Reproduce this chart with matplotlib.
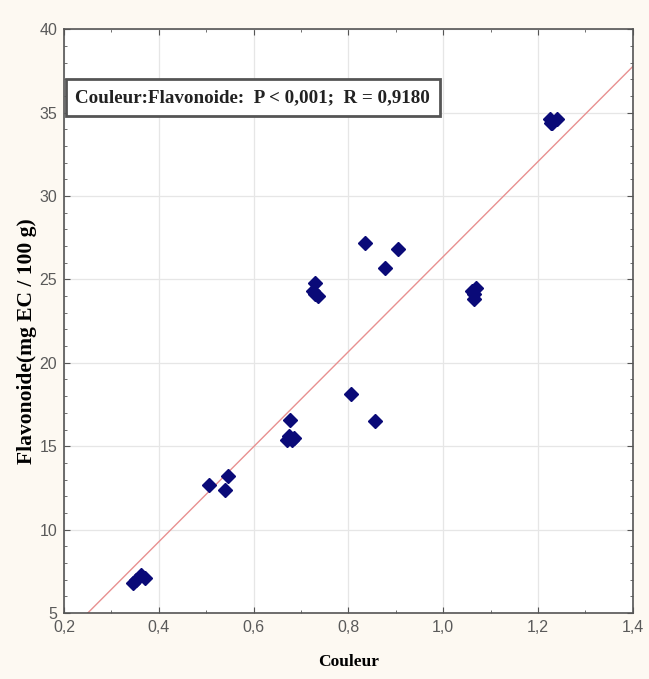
import matplotlib
matplotlib.use("Agg")
import matplotlib.pyplot as plt
import numpy as np
from matplotlib.ticker import MultipleLocator, FuncFormatter

# Data
couleur = [0.345, 0.352, 0.362, 0.370,
           0.505, 0.540, 0.545,
           0.670, 0.675, 0.680, 0.685, 0.677,
           0.725, 0.730, 0.735, 0.730,
           0.805, 0.835, 0.855, 0.877, 0.905,
           1.060, 1.065, 1.070, 1.065,
           1.225, 1.230, 1.240, 1.227]
flavonoide = [6.8, 7.0, 7.3, 7.1,
              12.7, 12.4, 13.2,
              15.4, 15.6, 15.4, 15.5, 16.6,
              24.3, 24.1, 24.0, 24.8,
              18.1, 27.2, 16.5, 25.7, 26.8,
              24.3, 23.8, 24.5, 24.1,
              34.6, 34.4, 34.6, 34.4]

# Regression line (slope, intercept)
fit_slope = 28.5
fit_intercept = -2.13
fit_x = [0.25, 1.4]

annotation = "Couleur:Flavonoide:  P < 0,001;  R = 0,9180"
x_label = "Couleur"
y_label = "Flavonoide(mg EC / 100 g)"

fig = plt.figure(figsize=(6.49, 6.79), dpi=100)
fig.patch.set_facecolor("#fdf9f2")
ax = fig.add_axes([0.0986, 0.0972, 0.8766, 0.8598])
ax.set_facecolor("white")

ax.set_xlim(0.2, 1.4)
ax.set_ylim(5, 40)

ax.grid(True, which="major", color="#e6e6e6", lw=0.9)
ax.set_axisbelow(True)

fx = np.array(fit_x)
ax.plot(fx, fit_slope * fx + fit_intercept, color="#e89090", lw=1.0, zorder=2)

ax.plot(couleur, flavonoide, linestyle="none", marker="D", ms=7,
        color="#0a0a78", mec="#0a0a78", zorder=3)

ax.xaxis.set_major_locator(MultipleLocator(0.2))
ax.xaxis.set_minor_locator(MultipleLocator(0.1))
ax.yaxis.set_major_locator(MultipleLocator(5))
ax.yaxis.set_minor_locator(MultipleLocator(1))
ax.xaxis.set_major_formatter(FuncFormatter(lambda v, p: f"{v:.1f}".replace(".", ",")))
ax.yaxis.set_major_formatter(FuncFormatter(lambda v, p: f"{v:.0f}"))

ax.tick_params(which="both", direction="in", top=True, right=True, color="#555555")
ax.tick_params(which="major", length=4, width=0.8, labelsize=11.5, labelcolor="#5a5a5a", pad=5)
ax.tick_params(which="minor", length=2.5, width=0.6)
for lab in ax.get_xticklabels() + ax.get_yticklabels():
    lab.set_family("Liberation Sans")

for s in ax.spines.values():
    s.set_color("#555555")
    s.set_linewidth(1.2)

ax.set_xlabel(x_label, family="Liberation Serif", fontweight="bold", fontsize=12.5, labelpad=14)
ax.set_ylabel(y_label, family="Liberation Serif", fontweight="bold", fontsize=15.5)
ax.yaxis.set_label_coords(-0.047, 0.465)

ax.text(0.02, 0.883, annotation, transform=ax.transAxes, family="Liberation Serif",
        fontweight="bold", fontsize=13.7, color="#222222", va="center", ha="left",
        bbox=dict(boxstyle="square,pad=0.5", facecolor="white", edgecolor="#555555", lw=2))

fig.savefig("out.png", dpi=100, facecolor=fig.get_facecolor())
